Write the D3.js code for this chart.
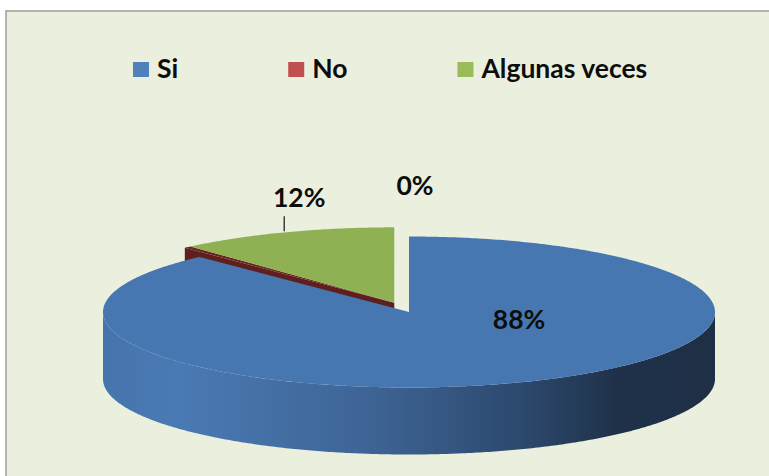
<!DOCTYPE html>
<html>
<head>
<meta charset="utf-8">
<script src="https://cdn.jsdelivr.net/npm/d3@7"></script>
<style>
  html, body { margin: 0; padding: 0; background: #ffffff; }
  svg { display: block; }
  text { font-family: Lato, "Open Sans", sans-serif; font-weight: bold; fill: #0d0d0d; }
</style>
</head>
<body>
<div id="chart"></div>
<script>
// data (percent of answers)
const categories = ["Si", "No", "Algunas veces"];
const values = [88.0, 0.4, 11.6];

// styles
const legendColors = ["#4f81bd", "#c0504d", "#9bbb59"];
const topColors = ["#4777b1", "#6b2523", "#8fb153"];
const sideColors = ["#3e6597", "#5e1f1e", "#6f8c40"];
const exploded = [false, true, true];

const width = 769, height = 476;

// geometry of the flattened pie
const cx = 409, cy = 312, rx = 306, ry = 75.5, depth = 67;
const explodeDist = 40;
const fontSize = 26.5;

const svg = d3.select("#chart").append("svg")
    .attr("width", width)
    .attr("height", height);

const defs = svg.append("defs");
const grad = defs.append("linearGradient")
    .attr("id", "sideGrad")
    .attr("gradientUnits", "userSpaceOnUse")
    .attr("x1", cx - rx).attr("x2", cx + rx)
    .attr("y1", 0).attr("y2", 0);
[[0, "#4674ad"], [0.12, "#4a7ab4"], [0.45, "#3d6393"], [0.7, "#2b476b"], [0.84, "#1f3149"], [1, "#1e2f46"]]
    .forEach(s => grad.append("stop").attr("offset", s[0]).attr("stop-color", s[1]));

// chart area with frame
svg.append("rect")
    .attr("x", 6).attr("y", 11)
    .attr("width", width + 20).attr("height", height + 20)
    .attr("fill", "#ebf0de")
    .attr("stroke", "#a3a3a3")
    .attr("stroke-width", 1.6);

const pie = d3.pie().sort(null).startAngle(0).endAngle(2 * Math.PI);
const arcs = pie(values);

// offset of the exploded group, along the bisector of the exploded slices
const exA0 = d3.min(arcs.filter((d, i) => exploded[i]), d => d.startAngle);
const exA1 = d3.max(arcs.filter((d, i) => exploded[i]), d => d.endAngle);
const exMid = (exA0 + exA1) / 2;
const exOff = [explodeDist * Math.sin(exMid), -explodeDist * Math.cos(exMid) * ry / rx];

function offsetOf(i) { return exploded[i] ? exOff : [0, 0]; }

// projection: angle measured clockwise from 12 o'clock
function rim(a, off, dz) {
    return [cx + off[0] + rx * Math.sin(a), cy + off[1] - ry * Math.cos(a) + (dz || 0)];
}
function arcPoints(a0, a1, off, dz) {
    const n = Math.max(2, Math.ceil(Math.abs(a1 - a0) / 0.01));
    return d3.range(n + 1).map(k => rim(a0 + (a1 - a0) * k / n, off, dz));
}
const line = d3.line();

const pieG = svg.append("g");

// 1. cut faces of the exploded group facing the viewer
arcs.forEach((d, i) => {
    if (!exploded[i] || d.startAngle !== exA0) return;
    const off = offsetOf(i);
    const c = [cx + off[0], cy + off[1]];
    const r = rim(d.startAngle, off);
    pieG.append("path")
        .attr("d", line([c, r, [r[0], r[1] + depth], [c[0], c[1] + depth]]) + "Z")
        .attr("fill", sideColors[i]);
});

// 2. top faces of exploded slices
arcs.forEach((d, i) => {
    if (!exploded[i]) return;
    const off = offsetOf(i);
    const pts = [[cx + off[0], cy + off[1]]].concat(arcPoints(d.startAngle, d.endAngle, off));
    pieG.append("path").attr("d", line(pts) + "Z").attr("fill", topColors[i]);
});

// 3. outer walls (front half only) and top faces of the rest
arcs.forEach((d, i) => {
    if (exploded[i]) return;
    const off = offsetOf(i);
    const a0 = Math.max(d.startAngle, Math.PI / 2);
    const a1 = Math.min(d.endAngle, 3 * Math.PI / 2);
    if (a1 > a0) {
        const topPts = arcPoints(a0, a1, off);
        const botPts = arcPoints(a1, a0, off, depth);
        pieG.append("path")
            .attr("d", line(topPts.concat(botPts)) + "Z")
            .attr("fill", "url(#sideGrad)");
    }
    const pts = [[cx + off[0], cy + off[1]]].concat(arcPoints(d.startAngle, d.endAngle, off));
    pieG.append("path").attr("d", line(pts) + "Z").attr("fill", topColors[i]);
});

// data labels
const fmt = v => Math.round(v) + "%";
// label anchor of the big slice, relative to the pie centre
const labelShift = [[110, 17], null, null];
arcs.forEach((d, i) => {
    const off = offsetOf(i);
    const mid = (d.startAngle + d.endAngle) / 2;
    if (i === 0) {
        svg.append("text")
            .attr("x", cx + labelShift[0][0]).attr("y", cy + labelShift[0][1])
            .attr("text-anchor", "middle")
            .style("font-size", fontSize + "px")
            .text(fmt(d.value));
    } else if (i === 2) {
        const r = rim(mid, off);
        svg.append("line")
            .attr("x1", r[0] - 1).attr("x2", r[0] - 1)
            .attr("y1", r[1] - 1).attr("y2", r[1] - 16)
            .attr("stroke", "#262626").attr("stroke-width", 1.3);
        svg.append("text")
            .attr("x", r[0] + 14).attr("y", r[1] - 25)
            .attr("text-anchor", "middle")
            .style("font-size", fontSize + "px")
            .text(fmt(d.value));
    } else {
        // the tiny slice gets its label placed above the gap
        svg.append("text")
            .attr("x", cx + 6).attr("y", cy - 117)
            .attr("text-anchor", "middle")
            .style("font-size", fontSize + "px")
            .text(fmt(d.value));
    }
});

// legend
const legend = svg.append("g").attr("transform", "translate(133,62)");
let lx = 0;
categories.forEach((c, i) => {
    const g = legend.append("g").attr("transform", `translate(${lx},0)`);
    g.append("rect")
        .attr("width", 16).attr("height", 15)
        .attr("fill", legendColors[i]);
    const t = g.append("text")
        .attr("x", 24).attr("y", 15.5)
        .style("font-size", fontSize + "px")
        .text(c);
    lx += 24 + t.node().getComputedTextLength() + 110;
});
</script>
</body>
</html>
